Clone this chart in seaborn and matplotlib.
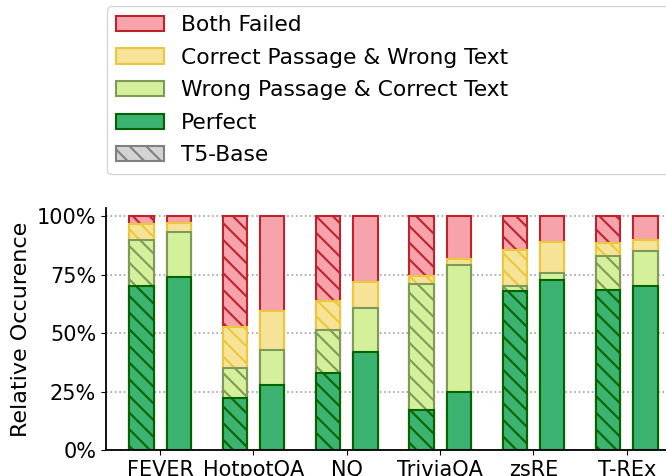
import numpy as np
import pandas as pd
import matplotlib
matplotlib.use("Agg")
import matplotlib.pyplot as plt
from matplotlib.patches import Patch
from matplotlib.ticker import PercentFormatter
import seaborn as sns

# Data (percent of examples per outcome)
datasets = ["FEVER", "HotpotQA", "NQ", "TriviaQA", "zsRE", "T-REx"]
models = ["T5-Base", "Ours"]
categories = ["Perfect", "Wrong Passage & Correct Text",
              "Correct Passage & Wrong Text", "Both Failed"]

t5_perfect = [70.0, 22.1, 33.1, 17.1, 67.9, 68.6]
t5_wrong_passage = [19.7, 12.9, 18.3, 53.9, 2.1, 14.3]
t5_wrong_text = [7.0, 17.4, 12.2, 3.3, 15.7, 5.5]
t5_both_failed = [3.3, 47.6, 36.4, 25.7, 14.3, 11.6]

ours_perfect = [73.9, 27.9, 42.1, 24.7, 72.9, 70.0]
ours_wrong_passage = [19.4, 15.0, 18.6, 54.6, 2.8, 15.3]
ours_wrong_text = [3.8, 16.4, 11.3, 2.6, 13.2, 4.6]
ours_both_failed = [2.9, 40.7, 28.0, 18.1, 11.1, 10.1]

face_colors = {
    "Both Failed": "#F6A3AB",
    "Correct Passage & Wrong Text": "#F7E398",
    "Wrong Passage & Correct Text": "#D5F09A",
    "Perfect": "#3CB371",
}
edge_colors = {
    "Both Failed": "#C0222C",
    "Correct Passage & Wrong Text": "#EBC83A",
    "Wrong Passage & Correct Text": "#7E9A58",
    "Perfect": "#006400",
}

# Build a long table and stack the categories
rows = []
series = {
    "T5-Base": [t5_perfect, t5_wrong_passage, t5_wrong_text, t5_both_failed],
    "Ours": [ours_perfect, ours_wrong_passage, ours_wrong_text, ours_both_failed],
}
for model, vals in series.items():
    for cat, v in zip(categories, vals):
        for ds, x in zip(datasets, v):
            rows.append({"dataset": ds, "model": model, "category": cat, "value": x})
df = pd.DataFrame(rows)
df["category"] = pd.Categorical(df["category"], categories, ordered=True)
df = df.sort_values(["model", "dataset", "category"])
df["top"] = df.groupby(["model", "dataset"])["value"].cumsum()

sns.set_style("ticks")
plt.rcParams["hatch.linewidth"] = 1.5
plt.rcParams["text.color"] = "black"
plt.rcParams["axes.labelcolor"] = "black"

fig = plt.figure(figsize=(6.66, 4.76), dpi=100)
ax = fig.add_axes([0.159, 0.0546, 0.8634, 0.5084])

# draw from the tallest stack down so lower segments sit on top
for cat in categories[::-1]:
    sub = df[df["category"] == cat]
    n_before = len(ax.containers)
    sns.barplot(data=sub, x="dataset", y="top", hue="model",
                order=datasets, hue_order=models,
                palette=[face_colors[cat]] * 2, edgecolor=edge_colors[cat],
                linewidth=1.5, gap=0.35, errorbar=None, legend=False,
                saturation=1, ax=ax)
    t5_container = ax.containers[n_before]
    for bar in t5_container:
        bar.set_hatch("\\\\")

ax.set_xlim(-0.58, 5.58)
ax.set_ylim(0, 103.5)
ax.yaxis.set_major_formatter(PercentFormatter(100, decimals=0))
ax.set_yticks([0, 25, 50, 75, 100])
ax.yaxis.grid(True, linestyle=":", color="#a0a0a0", linewidth=1.2)
ax.set_axisbelow(True)
ax.set_xlabel("")
ax.set_ylabel("Relative Occurence", fontsize=16)
ax.tick_params(axis="both", labelsize=15, colors="black")
sns.despine(ax=ax)
for side in ["left", "bottom"]:
    ax.spines[side].set_color("black")
    ax.spines[side].set_linewidth(1.3)

handles = [Patch(facecolor=face_colors[c], edgecolor=edge_colors[c], linewidth=1.5, label=c)
           for c in categories[::-1]]
handles.append(Patch(facecolor="lightgray", edgecolor="gray", hatch="\\\\",
                     linewidth=1.5, label="T5-Base"))
fig.legend(handles=handles, loc="upper left", mode="expand",
           bbox_to_anchor=(0.161, 0.0, 0.86, 0.987), borderaxespad=0,
           fontsize=15.7, handlelength=2.2, labelspacing=0.58, frameon=True)

fig.savefig("out.png", dpi=100)
